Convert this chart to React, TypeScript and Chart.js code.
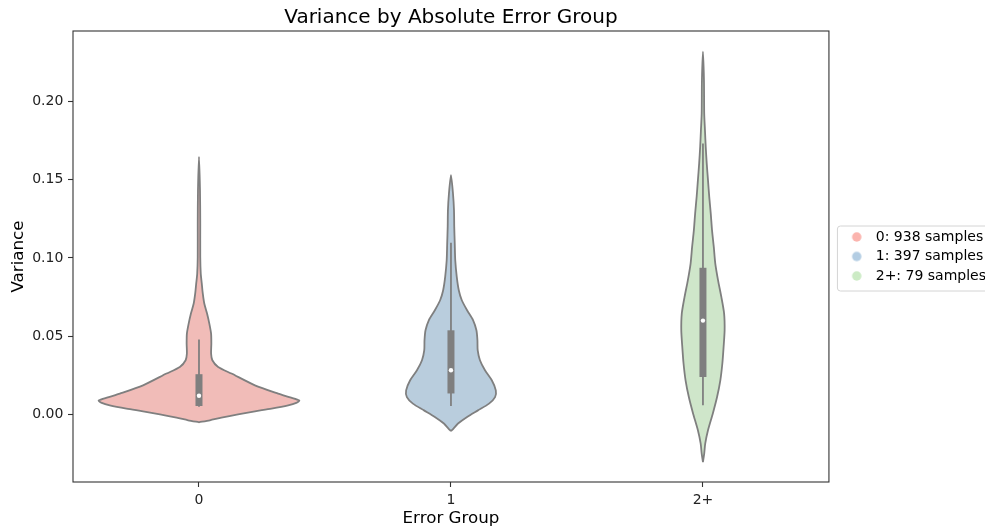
import React, { useEffect, useRef } from "react";
import { Chart, registerables } from "chart.js";

Chart.register(...registerables);

// ---- data ----
const categories = ["0", "1", "2+"];
const sampleCounts = [938, 397, 79];
const legendColors = ["#fbb4ae", "#b3cde3", "#ccebc5"];
const violinFills = ["#f1bcb8", "#b9cddd", "#cfe6ca"];

// violin density outlines: value levels and half-widths (in category units)
const violin0Levels = [-0.0049, -0.0036, -0.0019, 0.0002, 0.0021, 0.0038, 0.0059, 0.0075, 0.009, 0.011, 0.0134, 0.0187, 0.0262, 0.0304, 0.0347, 0.039, 0.0453, 0.0517, 0.0581, 0.0645, 0.0709, 0.0773, 0.0837, 0.09, 0.1006, 0.122, 0.1432, 0.1645];
const violin0Widths = [0, 0.043, 0.089, 0.155, 0.222, 0.288, 0.354, 0.386, 0.398, 0.362, 0.314, 0.222, 0.129, 0.076, 0.053, 0.048, 0.049, 0.048, 0.041, 0.032, 0.021, 0.015, 0.011, 0.007, 0.005, 0.005, 0.004, 0];

const violin1Levels = [-0.0105, -0.0089, -0.0057, -0.0015, 0.0027, 0.007, 0.0112, 0.0155, 0.0219, 0.0283, 0.0347, 0.0411, 0.0475, 0.0538, 0.0602, 0.0666, 0.073, 0.0794, 0.0879, 0.0985, 0.1092, 0.1198, 0.1305, 0.1411, 0.1528];
const violin1Widths = [0, 0.01, 0.028, 0.064, 0.107, 0.151, 0.175, 0.178, 0.162, 0.135, 0.115, 0.106, 0.105, 0.101, 0.088, 0.064, 0.043, 0.031, 0.023, 0.017, 0.015, 0.013, 0.012, 0.008, 0];

const violin2Levels = [-0.0303, -0.0249, -0.0185, -0.01, 0.0006, 0.0112, 0.0219, 0.0326, 0.0432, 0.0538, 0.0645, 0.0751, 0.0857, 0.0964, 0.107, 0.1177, 0.1283, 0.139, 0.1496, 0.1603, 0.1709, 0.1815, 0.1922, 0.2135, 0.2316];
const violin2Widths = [0, 0.005, 0.009, 0.02, 0.039, 0.056, 0.069, 0.077, 0.082, 0.086, 0.084, 0.073, 0.06, 0.049, 0.043, 0.036, 0.031, 0.025, 0.02, 0.015, 0.011, 0.008, 0.005, 0.004, 0];

// inner box statistics
const whiskerLow = [0.005, 0.0055, 0.006];
const quartile1 = [0.0055, 0.0135, 0.024];
const medians = [0.012, 0.0283, 0.06];
const quartile3 = [0.0258, 0.0538, 0.0937];
const whiskerHigh = [0.048, 0.1096, 0.173];

const xTicks = [0, 1, 2];
const yTicks = [0, 0.05, 0.1, 0.15, 0.2];
const yMin = -0.043;
const yMax = 0.2448;

const FONT = "'DejaVu Sans', sans-serif";
const LINE = "#7f7f7f";

function outline(center: number, levels: number[], widths: number[]) {
  const right = levels.map((v, i) => ({ x: center + widths[i], y: v }));
  const left = levels.map((v, i) => ({ x: center - widths[i], y: v })).reverse();
  return [...right, ...left.slice(1)];
}

// legend marker image: circle placed a little left of the image centre
function markerImage(color: string) {
  const c = document.createElement("canvas");
  c.width = 30;
  c.height = 12;
  const g = c.getContext("2d");
  if (g) {
    g.fillStyle = color;
    g.beginPath();
    g.arc(10, 6, 4.7, 0, Math.PI * 2);
    g.fill();
  }
  return c;
}

const framePlugin = {
  id: "frame",
  afterDatasetsDraw(chart: any) {
    const { ctx, chartArea: a } = chart;
    ctx.save();
    ctx.strokeStyle = "#333";
    ctx.lineWidth = 1.1;
    ctx.strokeRect(a.left, a.top, a.right - a.left, a.bottom - a.top);
    ctx.restore();
  },
  afterDraw(chart: any) {
    const lg = chart.legend;
    if (!lg || !lg.legendHitBoxes || !lg.legendHitBoxes.length) return;
    const hb = lg.legendHitBoxes;
    const first = hb[0];
    const last = hb[hb.length - 1];
    const { ctx, chartArea: a } = chart;
    const left = a.right + 8;
    const top = first.top + first.height / 2 - 11.5;
    const bottom = last.top + last.height / 2 + 14.5;
    const right = chart.width + 40;
    ctx.save();
    ctx.strokeStyle = "#d4d4d4";
    ctx.lineWidth = 1;
    ctx.beginPath();
    if ((ctx as any).roundRect) (ctx as any).roundRect(left + 0.5, top + 0.5, right - left, bottom - top, 3);
    else ctx.rect(left + 0.5, top + 0.5, right - left, bottom - top);
    ctx.stroke();
    ctx.restore();
  },
};

export default function App() {
  const ref = useRef<HTMLCanvasElement | null>(null);

  useEffect(() => {
    if (!ref.current) return;
    const levels = [violin0Levels, violin1Levels, violin2Levels];
    const widths = [violin0Widths, violin1Widths, violin2Widths];
    const markers = legendColors.map((c) => markerImage(c));

    const violinSets = categories.map((c, i) => ({
      label: `violin ${c}`,
      data: outline(xTicks[i], levels[i], widths[i]),
      showLine: true,
      fill: "shape",
      backgroundColor: violinFills[i],
      borderColor: LINE,
      borderWidth: 1.8,
      pointRadius: 0,
      pointHoverRadius: 0,
      tension: 0.25,
      order: 3,
    }));
    const whiskerSets = categories.map((c, i) => ({
      label: `whisker ${c}`,
      data: [
        { x: xTicks[i], y: whiskerLow[i] },
        { x: xTicks[i], y: whiskerHigh[i] },
      ],
      showLine: true,
      fill: false,
      borderColor: LINE,
      borderWidth: 1.8,
      borderCapStyle: "butt",
      pointRadius: 0,
      pointHoverRadius: 0,
      order: 2,
    }));
    const boxSets = categories.map((c, i) => ({
      label: `box ${c}`,
      data: [
        { x: xTicks[i], y: quartile1[i] },
        { x: xTicks[i], y: quartile3[i] },
      ],
      showLine: true,
      fill: false,
      borderColor: LINE,
      borderWidth: 7,
      borderCapStyle: "butt",
      pointRadius: 0,
      pointHoverRadius: 0,
      order: 1,
    }));
    const medianSet = {
      label: "median",
      data: categories.map((_, i) => ({ x: xTicks[i], y: medians[i] })),
      showLine: false,
      pointRadius: 2.2,
      pointBackgroundColor: "#ffffff",
      pointBorderWidth: 0,
      pointBorderColor: "#ffffff",
      order: 0,
    };

    const tickGrid = {
      display: true,
      drawOnChartArea: false,
      drawTicks: true,
      tickLength: 5,
      tickColor: "#333",
      tickWidth: 1.1,
    };

    const chart = new Chart(ref.current, {
      type: "scatter",
      data: { datasets: [...violinSets, ...whiskerSets, ...boxSets, medianSet] as any },
      plugins: [framePlugin],
      options: {
        animation: false,
        responsive: false,
        events: [],
        layout: { padding: 0 },
        plugins: {
          title: {
            display: true,
            text: "Variance by Absolute Error Group",
            fullSize: false,
            color: "#000",
            font: { family: FONT, size: 20, weight: "normal" as any },
            padding: { top: 6, bottom: 1 },
          },
          legend: {
            display: true,
            position: "right",
            align: "center",
            fullSize: false,
            maxWidth: 148,
            labels: {
              usePointStyle: true,
              boxWidth: 14,
              boxHeight: 14,
              padding: 5.5,
              color: "#000",
              font: { family: FONT, size: 14 },
              generateLabels: () =>
                categories.map((c, i) => ({
                  text: `${c}: ${sampleCounts[i]} samples`,
                  fillStyle: legendColors[i],
                  strokeStyle: legendColors[i],
                  lineWidth: 0,
                  pointStyle: markers[i],
                  hidden: false,
                  datasetIndex: i,
                  fontColor: "#000",
                })) as any,
            },
          },
          tooltip: { enabled: false },
        },
        scales: {
          x: {
            type: "linear",
            min: -0.5,
            max: 2.5,
            afterBuildTicks: (s: any) => {
              s.ticks = xTicks.map((v) => ({ value: v }));
            },
            afterFit: (s: any) => {
              s.height = 45;
            },
            ticks: {
              callback: (v: any) => categories[Math.round(Number(v))] ?? "",
              color: "#222",
              padding: 5.3,
              font: { family: FONT, size: 14 },
              maxRotation: 0,
            },
            grid: tickGrid as any,
            border: { display: false },
            title: {
              display: true,
              text: "Error Group",
              color: "#000",
              font: { family: FONT, size: 16.7, lineHeight: 1 },
              padding: { top: 0, bottom: -0.5 },
            },
          },
          y: {
            type: "linear",
            min: yMin,
            max: yMax,
            afterBuildTicks: (s: any) => {
              s.ticks = yTicks.map((v) => ({ value: v }));
            },
            afterFit: (s: any) => {
              s.width = 73;
            },
            ticks: {
              callback: (v: any) => Number(v).toFixed(2),
              color: "#222",
              padding: 4.7,
              font: { family: FONT, size: 14 },
            },
            grid: tickGrid as any,
            border: { display: false },
            title: {
              display: true,
              text: "Variance",
              color: "#000",
              font: { family: FONT, size: 16.7, lineHeight: 1.2 },
              padding: { top: 8.2, bottom: 0 },
            },
          },
          spacer: {
            type: "linear",
            position: "right",
            display: true,
            afterFit: (s: any) => {
              s.width = 20.3;
            },
            ticks: { display: false },
            grid: { display: false },
            border: { display: false },
          },
        },
      } as any,
    });
    return () => chart.destroy();
  }, []);

  return (
    <div
      style={{
        position: "fixed",
        left: 0,
        top: 0,
        width: 985,
        height: 527,
        overflow: "hidden",
        background: "#ffffff",
      }}
    >
      <canvas ref={ref} width={996} height={527} style={{ display: "block", width: 996, height: 527 }} />
    </div>
  );
}
